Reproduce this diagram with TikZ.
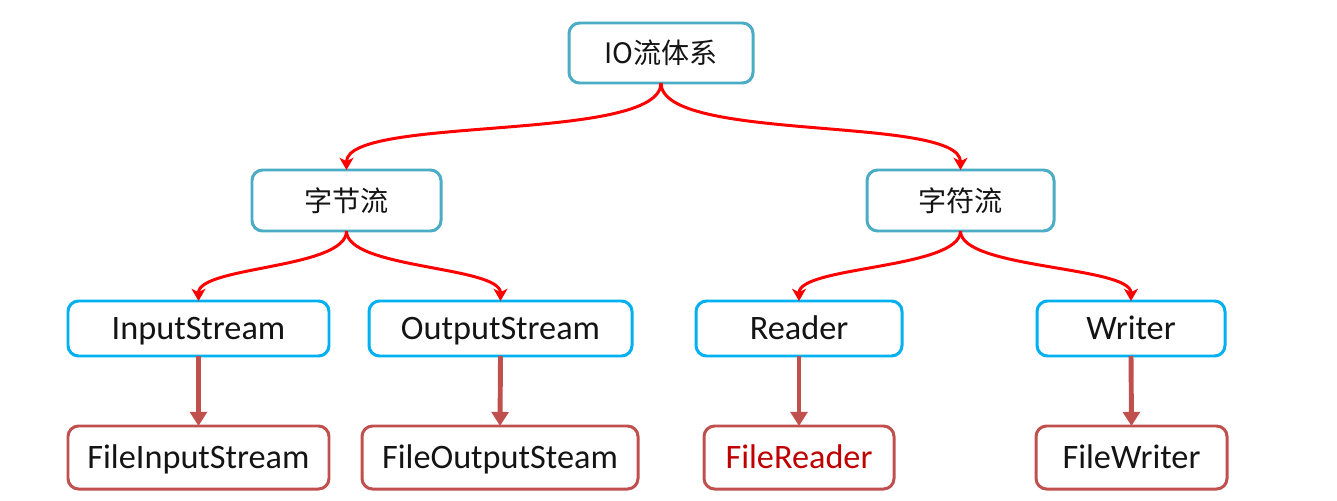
\documentclass[tikz,border=0pt]{standalone}
\usepackage{fontspec}
\setmainfont{Carlito}
\newfontfamily\cjk{Noto Sans CJK SC}
\usetikzlibrary{arrows.meta}
\definecolor{teal}{RGB}{75,172,198}
\definecolor{cyanb}{RGB}{0,176,240}
\definecolor{brick}{RGB}{192,80,77}
\definecolor{dred}{RGB}{192,0,0}
\definecolor{txt}{RGB}{20,20,20}
\tikzset{
  bx/.style 2 args={rectangle, rounded corners=6pt, line width=1.7pt, inner sep=0pt, outer sep=0pt,
    minimum width=#1*0.02cm, minimum height=#2*0.02cm, fill=white, text=txt},
  topbox/.style={draw=teal, font=\cjk\fontsize{16}{18}\selectfont},
  midbox/.style={draw=cyanb, font=\fontsize{19.5}{22}\selectfont, text height=16pt, text depth=3.5pt},
  botbox/.style={draw=brick, font=\fontsize{19.5}{22}\selectfont, text height=16pt, text depth=3.5pt},
  redarrow/.style={draw=red, line width=1.7pt, -{Stealth[length=7pt,width=8pt,inset=2pt]}},
  brownarrow/.style={draw=brick, line width=2.8pt, -{Triangle[length=8pt,width=9.5pt]}}
}
\begin{document}
\begin{tikzpicture}[x=0.02cm,y=-0.02cm]
\useasboundingbox[fill=white] (0,0) rectangle (1337,500);
\node[topbox,bx={184}{60}] (io) at (661,53) {IO流体系};
\node[topbox,bx={189}{61}] (zj) at (346.5,200.5) {字节流};
\node[topbox,bx={187}{61}] (zf) at (960.5,200.5) {字符流};
\node[midbox,bx={261}{55}] (is) at (198.5,328.5) {InputStream};
\node[midbox,bx={263}{55}] (os) at (500.5,328.5) {OutputStream};
\node[midbox,bx={206}{55}] (rd) at (799,328.5) {Reader};
\node[midbox,bx={188}{55}] (wr) at (1131,328.5) {Writer};
\node[botbox,bx={261}{63}] (fis) at (198.5,457.5) {FileInputStream};
\node[botbox,bx={276}{63}] (fos) at (500,457.5) {FileOutputSteam};
\node[botbox,bx={190}{63},text=dred] (frd) at (799,457.5) {FileReader};
\node[botbox,bx={191}{63}] (fwr) at (1131.5,457.5) {FileWriter};
\draw[redarrow] (io.south) .. controls +(0,60) and +(0,-55) .. (zj.north);
\draw[redarrow] (io.south) .. controls +(0,60) and +(0,-55) .. (zf.north);
\draw[redarrow] (zj.south) .. controls +(0,38) and +(0,-35) .. (is.north);
\draw[redarrow] (zj.south) .. controls +(0,38) and +(0,-35) .. (os.north);
\draw[redarrow] (zf.south) .. controls +(0,38) and +(0,-35) .. (rd.north);
\draw[redarrow] (zf.south) .. controls +(0,38) and +(0,-35) .. (wr.north);
\draw[brownarrow] (is.south) -- (fis.north);
\draw[brownarrow] (os.south) -- (fos.north);
\draw[brownarrow] (rd.south) -- (frd.north);
\draw[brownarrow] (wr.south) -- (fwr.north);
\end{tikzpicture}
\end{document}
